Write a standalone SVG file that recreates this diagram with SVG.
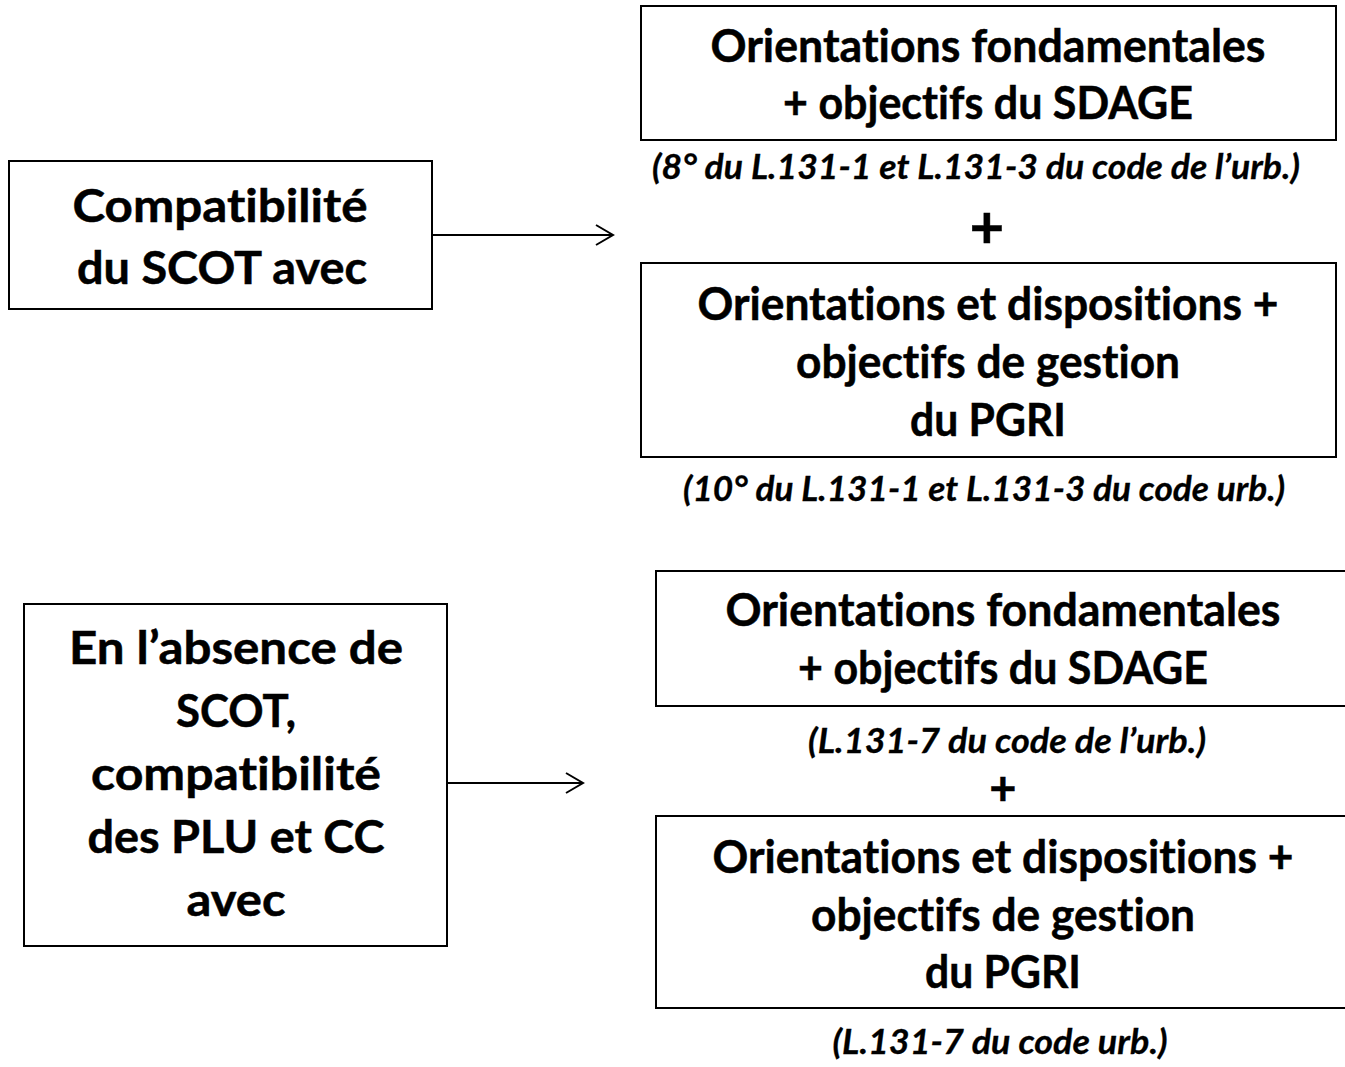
<svg xmlns="http://www.w3.org/2000/svg" width="1345" height="1067" viewBox="0 0 1345 1067">
<style>
.box{fill:#fff;stroke:#000;stroke-width:2}
.t{font-family:Lato,"Liberation Sans",sans-serif;font-weight:bold;font-size:45px;text-anchor:middle;fill:#000;stroke:#000;stroke-width:0.5;font-variant-ligatures:none}
.i{font-family:Lato,"Liberation Sans",sans-serif;font-weight:bold;font-style:italic;font-size:35px;text-anchor:middle;fill:#000;stroke:#000;stroke-width:0.3;font-variant-ligatures:none}
.p1{font-size:60px}
.p2{font-size:47px}
.c{stroke:#000;stroke-width:2;fill:none}
</style>
<rect width="1345" height="1067" fill="#fff"/>
<g id="n1">
<rect class="box" x="9" y="161" width="423" height="148"/>
<text class="t" x="220" y="222" textLength="295" lengthAdjust="spacingAndGlyphs">Compatibilité</text>
<text class="t" x="222" y="284" textLength="290" lengthAdjust="spacingAndGlyphs">du SCOT avec</text>
</g>
<g id="n2">
<rect class="box" x="641" y="6" width="695" height="134" stroke-width="2.5"/>
<text class="t" x="988" y="62" textLength="555" lengthAdjust="spacingAndGlyphs">Orientations fondamentales</text>
<text class="t" x="988" y="119" textLength="410" lengthAdjust="spacingAndGlyphs">+ objectifs du SDAGE</text>
</g>
<g id="l1">
<text class="i" x="976" y="179" textLength="648" lengthAdjust="spacingAndGlyphs">(8° du L.131-1 et L.131-3 du code de l’urb.)</text>
<text class="t p1" x="987" y="248">+</text>
</g>
<g id="n3">
<rect class="box" x="641" y="263" width="695" height="194"/>
<text class="t" x="988" y="320" textLength="581" lengthAdjust="spacingAndGlyphs">Orientations et dispositions +</text>
<text class="t" x="988" y="378" textLength="384" lengthAdjust="spacingAndGlyphs">objectifs de gestion</text>
<text class="t" x="988" y="436" textLength="156" lengthAdjust="spacingAndGlyphs">du PGRI</text>
</g>
<g id="l2">
<text class="i" x="984" y="501" textLength="602" lengthAdjust="spacingAndGlyphs">(10° du L.131-1 et L.131-3 du code urb.)</text>
</g>
<g id="n4">
<rect class="box" x="24" y="604" width="423" height="342"/>
<text class="t" x="236" y="664" textLength="334" lengthAdjust="spacingAndGlyphs">En l’absence de</text>
<text class="t" x="236" y="727" textLength="120" lengthAdjust="spacingAndGlyphs">SCOT,</text>
<text class="t" x="236" y="790" textLength="290" lengthAdjust="spacingAndGlyphs">compatibilité</text>
<text class="t" x="236" y="853" textLength="297" lengthAdjust="spacingAndGlyphs">des PLU et CC</text>
<text class="t" x="236" y="916" textLength="99" lengthAdjust="spacingAndGlyphs">avec</text>
</g>
<g id="n5">
<rect class="box" x="656" y="571" width="700" height="135"/>
<text class="t" x="1003" y="626" textLength="555" lengthAdjust="spacingAndGlyphs">Orientations fondamentales</text>
<text class="t" x="1003" y="684" textLength="410" lengthAdjust="spacingAndGlyphs">+ objectifs du SDAGE</text>
</g>
<g id="l3">
<text class="i" x="1007" y="753" textLength="398" lengthAdjust="spacingAndGlyphs">(L.131-7 du code de l’urb.)</text>
<text class="t p2" x="1003" y="805">+</text>
</g>
<g id="n6">
<rect class="box" x="656" y="816" width="700" height="192"/>
<text class="t" x="1003" y="873" textLength="581" lengthAdjust="spacingAndGlyphs">Orientations et dispositions +</text>
<text class="t" x="1003" y="931" textLength="384" lengthAdjust="spacingAndGlyphs">objectifs de gestion</text>
<text class="t" x="1003" y="988" textLength="156" lengthAdjust="spacingAndGlyphs">du PGRI</text>
</g>
<g id="l4">
<text class="i" x="1000" y="1054" textLength="335" lengthAdjust="spacingAndGlyphs">(L.131-7 du code urb.)</text>
</g>
<g id="connectors">
<line class="c" x1="432" y1="235" x2="613" y2="235"/>
<polyline class="c" points="596,225 613,235 596,245"/>
<line class="c" x1="447" y1="783" x2="583" y2="783"/>
<polyline class="c" points="566,773 583,783 566,793"/>
</g>
</svg>
